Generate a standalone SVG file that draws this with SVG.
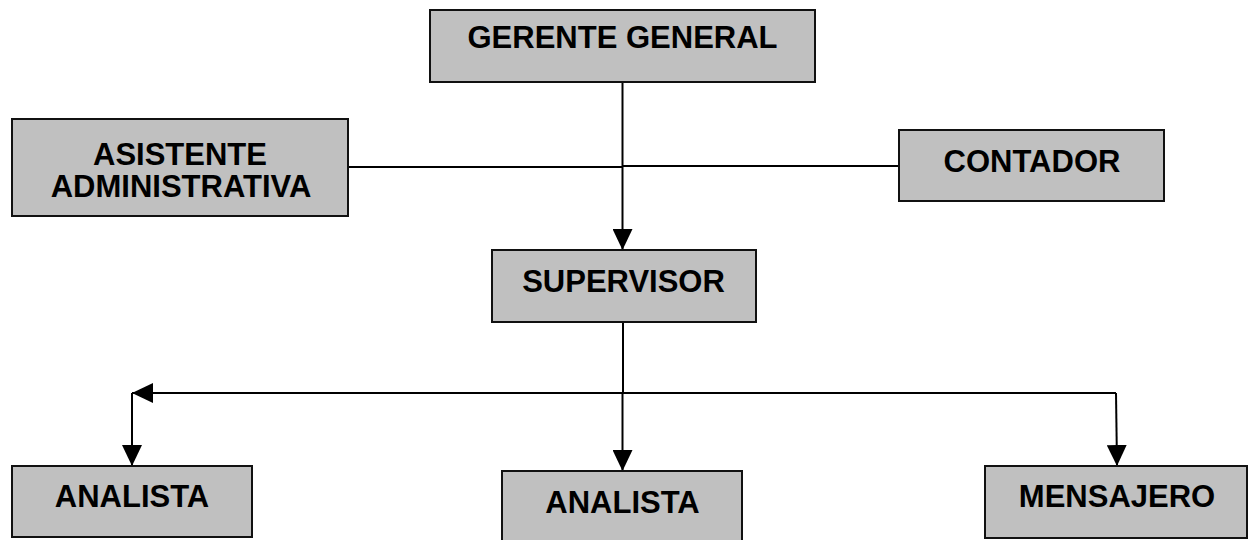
<svg xmlns="http://www.w3.org/2000/svg" width="1249" height="540" viewBox="0 0 1249 540">
<style>
.box{fill:#c0c0c0;stroke:#111;stroke-width:2}
.lbl{font-family:"Liberation Sans",Arial,sans-serif;font-weight:bold;font-size:31px;fill:#000;text-anchor:middle}
.ln{fill:none;stroke:#000;stroke-width:2}
</style>
<defs>
<marker id="arr" viewBox="0 0 21 20" refX="21" refY="10" markerWidth="21" markerHeight="20" markerUnits="userSpaceOnUse" orient="auto">
<path d="M0,0 L21,10 L0,20 z" fill="#000"/>
</marker>
</defs>
<rect width="1249" height="540" fill="#fff"/>
<g id="connectors">
<path class="ln" d="M622.5,82 V250" marker-end="url(#arr)"/>
<path class="ln" d="M348,167 H622.5"/>
<path class="ln" d="M622.5,166 H899"/>
<path class="ln" d="M623,322 V393"/>
<path class="ln" d="M1116,393 H132" marker-end="url(#arr)"/>
<path class="ln" d="M132,393 V466" marker-end="url(#arr)"/>
<path class="ln" d="M622.5,393 V471" marker-end="url(#arr)"/>
<path class="ln" d="M1116,393 L1117,466" marker-end="url(#arr)"/>
</g>
<g id="gerente">
<rect class="box" x="430" y="10" width="385" height="72"/>
<text class="lbl" x="622.5" y="48">GERENTE GENERAL</text>
</g>
<g id="asistente">
<rect class="box" x="12" y="119" width="336" height="97"/>
<text class="lbl" x="180" y="165">ASISTENTE</text>
<text class="lbl" x="181" y="197">ADMINISTRATIVA</text>
</g>
<g id="contador">
<rect class="box" x="899" y="130" width="265" height="71"/>
<text class="lbl" x="1032" y="172">CONTADOR</text>
</g>
<g id="supervisor">
<rect class="box" x="492" y="250" width="264" height="72"/>
<text class="lbl" x="623.5" y="292">SUPERVISOR</text>
</g>
<g id="analista1">
<rect class="box" x="12" y="466" width="240" height="71"/>
<text class="lbl" x="132" y="507">ANALISTA</text>
</g>
<g id="analista2">
<rect class="box" x="502" y="471" width="240" height="80"/>
<text class="lbl" x="622.5" y="513">ANALISTA</text>
</g>
<g id="mensajero">
<rect class="box" x="985" y="466" width="262" height="72"/>
<text class="lbl" x="1117" y="507">MENSAJERO</text>
</g>
</svg>
